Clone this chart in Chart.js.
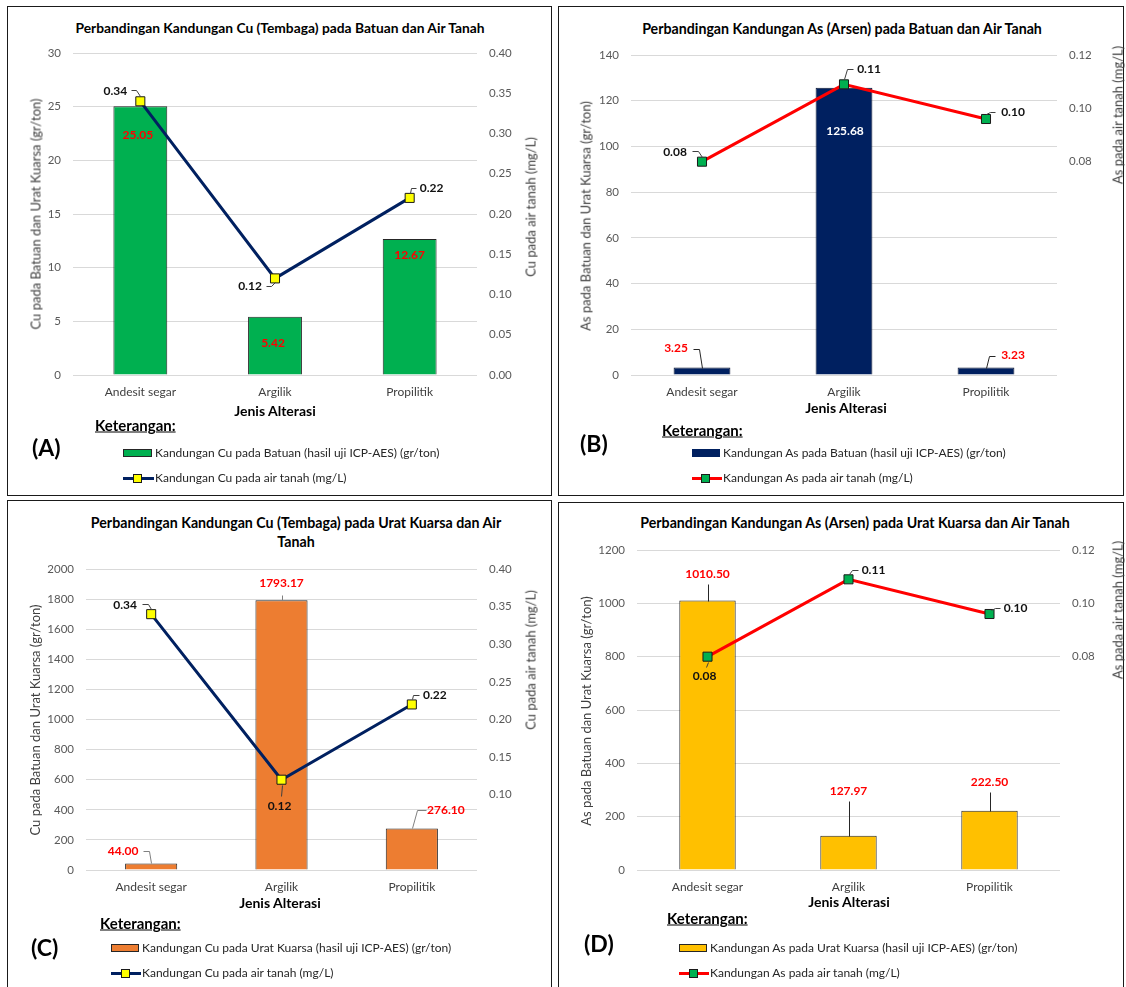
<!DOCTYPE html>
<html>
<head>
<meta charset="utf-8">
<script src="https://cdn.jsdelivr.net/npm/chart.js@4.4.1/dist/chart.umd.min.js"></script>
<style>
  body { margin:0; background:#fff; width:1126px; height:987px; position:relative; overflow:hidden; font-family:Lato, "Open Sans", sans-serif; color:#000; }
  canvas { position:absolute; }
  .t { position:absolute; white-space:nowrap; line-height:1; }
  .c { transform:translate(-50%,-50%); }
  .l { transform:translate(0,-50%); }
  .v { transform:translate(-50%,-50%) rotate(-90deg); }
  .title { font-weight:700; font-size:14.2px; }
  .axt { font-size:13px; color:#404040; }
  .xt { font-weight:700; font-size:14px; }
  .ket { font-weight:700; font-size:15px; text-decoration:underline; }
  .letter { font-weight:700; font-size:23px; }
  .leg { font-size:12px; color:#262626; }
  .sw { position:absolute; box-sizing:border-box; }
</style>
</head>
<body>
<script>
// Jenis alterasi (categories)
const categories = ['Andesit segar', 'Argilik', 'Propilitik'];

// Kandungan logam pada batuan / urat kuarsa (gr/ton)
const cuBatuan = [25.05, 5.42, 12.67];
const asBatuan = [3.25, 125.68, 3.23];
const cuUratKuarsa = [44.00, 1793.17, 276.10];
const asUratKuarsa = [1010.50, 127.97, 222.50];

// Kandungan logam pada air tanah (mg/L)
const cuAirTanah = [0.34, 0.12, 0.22];
const asAirTanah = [0.08, 0.109, 0.096];

// Axis tick values
const ticksCuBatuan = [0, 5, 10, 15, 20, 25, 30];
const ticksAsBatuan = [0, 20, 40, 60, 80, 100, 120, 140];
const ticksCuUrat = [0, 200, 400, 600, 800, 1000, 1200, 1400, 1600, 1800, 2000];
const ticksAsUrat = [0, 200, 400, 600, 800, 1000, 1200];
const ticksCuAirA = [0, 0.05, 0.10, 0.15, 0.20, 0.25, 0.30, 0.35, 0.40];
const ticksCuAirC = [0.10, 0.15, 0.20, 0.25, 0.30, 0.35, 0.40];
const ticksAsAir = [0.08, 0.10, 0.12];

const FONT = 'Lato, "Open Sans", sans-serif';

// Draws value labels (with optional leader lines) next to each bar / point
const valueLabels = {
  id: 'valueLabels',
  afterDatasetsDraw(chart) {
    const ctx = chart.ctx;
    chart.data.datasets.forEach((ds, i) => {
      const spec = ds.valueLabels;
      if (!spec) return;
      const meta = chart.getDatasetMeta(i);
      meta.data.forEach((el, j) => {
        const s = spec.items[j];
        const x = el.x, y = el.y;
        if (s.leader) {
          ctx.save();
          ctx.strokeStyle = spec.leaderColor || '#404040';
          ctx.lineWidth = 1;
          ctx.beginPath();
          s.leader.forEach(([lx, ly], k) => {
            const px = Math.round(x + lx) + 0.5, py = Math.round(y + ly) + 0.5;
            if (k === 0) ctx.moveTo(px, py); else ctx.lineTo(px, py);
          });
          ctx.stroke();
          ctx.restore();
        }
        ctx.save();
        ctx.font = spec.font;
        ctx.fillStyle = s.color || spec.color;
        ctx.textAlign = 'center';
        ctx.textBaseline = 'middle';
        ctx.fillText(ds.data[j].toFixed(2), x + s.dx, y + s.dy);
        ctx.restore();
      });
    });
  }
};

function addText(str, x, y, cls, anchor, size) {
  const d = document.createElement('div');
  d.className = 't ' + cls + ' ' + anchor;
  d.style.left = x + 'px';
  d.style.top = y + 'px';
  if (size) d.style.fontSize = size + 'px';
  d.textContent = str;
  document.body.appendChild(d);
}

function addBox(x0, y0, x1, y1, css) {
  const d = document.createElement('div');
  d.className = 'sw';
  d.style.left = x0 + 'px'; d.style.top = y0 + 'px';
  d.style.width = (x1 - x0) + 'px'; d.style.height = (y1 - y0) + 'px';
  Object.assign(d.style, css);
  document.body.appendChild(d);
}

// fixed-width vertical axis without extra label padding above/below
const fitVertical = w => s => { s.width = w; s.paddingTop = 0; s.paddingBottom = 0; };

function buildPanel(p) {
  // frame
  addBox(p.box[0], p.box[1], p.box[2], p.box[3], { border: '1.5px solid #1a1a1a' });

  // chart
  const [cx, cy, cw, ch] = p.canvas;
  const [l, r, t, b] = p.plot;
  const SW = 40, XH = 24;
  const cv = document.createElement('canvas');
  cv.width = cw; cv.height = ch;
  cv.style.left = cx + 'px'; cv.style.top = cy + 'px';
  document.body.appendChild(cv);

  const tickFont = { family: FONT, size: 11.5 };
  const catFont = { family: FONT, size: 12 };
  new Chart(cv, {
    type: 'bar',
    data: {
      labels: categories,
      datasets: [
        {
          type: 'line', data: p.line, order: 0, yAxisID: 'y2',
          borderColor: p.lineColor, borderWidth: 3, tension: 0,
          pointStyle: 'rect', pointRadius: 6.4, pointBackgroundColor: p.markerColor,
          pointBorderColor: '#1a1a1a', pointBorderWidth: 1,
          valueLabels: { font: 'bold 12px ' + FONT, color: '#111', items: p.lineLabels, leaderColor: '#404040' }
        },
        {
          type: 'bar', data: p.bars, order: 1, yAxisID: 'y',
          backgroundColor: p.barColor, borderColor: p.barBorder, borderWidth: 1,
          barPercentage: 0.4, categoryPercentage: 1,
          valueLabels: { font: 'bold 12px ' + FONT, color: '#FF0000', items: p.barLabels, leaderColor: p.barLeader || '#404040' }
        }
      ]
    },
    options: {
      responsive: false,
      animation: false,
      layout: {
        autoPadding: false,
        padding: { left: (l - cx) - SW, right: (cx + cw - r) - SW, top: t - cy, bottom: (cy + ch - b) - XH }
      },
      plugins: { legend: { display: false }, tooltip: { enabled: false }, title: { display: false } },
      scales: {
        x: {
          grid: { display: false, drawTicks: false }, border: { display: false },
          ticks: { color: '#404040', font: catFont, padding: 10 },
          afterFit: s => { s.height = XH; }
        },
        y: {
          position: 'left',
          min: p.leftTicks[0], max: p.leftTicks[p.leftTicks.length - 1],
          afterBuildTicks: s => { s.ticks = p.leftTicks.map(v => ({ value: v })); },
          grid: { color: '#d9d9d9', lineWidth: 1, drawTicks: false }, border: { display: false },
          ticks: { color: '#595959', font: tickFont, padding: 12, callback: v => String(v) },
          afterFit: fitVertical(SW)
        },
        y2: {
          position: 'right',
          min: 0, max: p.rightTicks[p.rightTicks.length - 1],
          afterBuildTicks: s => { s.ticks = p.rightTicks.map(v => ({ value: v })); },
          grid: { display: false, drawTicks: false }, border: { display: false },
          ticks: { color: '#595959', font: tickFont, padding: 12, callback: v => Number(v).toFixed(2) },
          afterFit: fitVertical(SW)
        }
      }
    },
    plugins: [valueLabels]
  });

  // texts
  p.title.forEach(([s, x, y]) => addText(s, x, y, 'title', 'c', p.titleSize));
  addText(p.leftTitle[0], p.leftTitle[1], p.leftTitle[2], 'axt', 'v');
  addText(p.rightTitle[0], p.rightTitle[1], p.rightTitle[2], 'axt', 'v');
  addText('Jenis Alterasi', p.xTitle[0], p.xTitle[1], 'xt', 'c');
  addText('Keterangan:', p.ket[0], p.ket[1], 'ket', 'l');
  addText(p.letter[0], p.letter[1], p.letter[2], 'letter', 'l');

  // legend
  const [sx0, sy0, sx1, sy1] = p.legBar;
  addBox(sx0, sy0, sx1, sy1, { background: p.barColor, border: '1px solid ' + p.legBorder });
  addText(p.legText1, sx1 + 3, (sy0 + sy1) / 2, 'leg', 'l');
  const ly = p.legLineY;
  addBox(sx0, ly - 1.5, sx1 + 2, ly + 1.5, { background: p.lineColor });
  addBox(p.legMarker - 4.5, ly - 4.5, p.legMarker + 4.5, ly + 4.5, { background: p.markerColor, border: '1px solid #1a1a1a' });
  addText(p.legText2, sx1 + 3, ly, 'leg', 'l');
}

const panels = [
  {
    box: [7, 6, 552, 496], canvas: [8, 40, 542, 370], plot: [73, 477, 53, 375],
    bars: cuBatuan, line: cuAirTanah, leftTicks: ticksCuBatuan, rightTicks: ticksCuAirA,
    barColor: '#00B050', barBorder: '#262626', lineColor: '#002060', markerColor: '#FFFF00', legBorder: '#262626',
    barLabels: [{ dx: -2.5, dy: 29 }, { dx: -2, dy: 26 }, { dx: 0, dy: 16 }],
    lineLabels: [
      { dx: -25, dy: -10, leader: [[-9, -11], [-4, -11], [0, -5]] },
      { dx: -25, dy: 8, leader: [[-9, 8], [-4, 8], [0, 4]] },
      { dx: 22, dy: -10, leader: [[6, -10], [1, -10], [0, -5]] }
    ],
    title: [['Perbandingan Kandungan Cu (Tembaga) pada Batuan dan Air Tanah', 280, 28]], titleSize: 13.8,
    leftTitle: ['Cu pada Batuan dan Urat Kuarsa (gr/ton)', 36, 214],
    rightTitle: ['Cu pada air tanah (mg/L)', 531, 207],
    xTitle: [275, 411], ket: [95, 425], letter: ['(A)', 32, 447],
    legBar: [123, 449, 152, 457], legLineY: 478, legMarker: 137.5,
    legText1: 'Kandungan Cu pada Batuan (hasil uji ICP-AES) (gr/ton)',
    legText2: 'Kandungan Cu pada air tanah (mg/L)'
  },
  {
    box: [558, 6, 1124, 496], canvas: [560, 40, 562, 370], plot: [631, 1057, 55, 375],
    bars: asBatuan, line: asAirTanah, leftTicks: ticksAsBatuan, rightTicks: ticksAsAir,
    barColor: '#002060', barBorder: '#0a1633', lineColor: '#FF0000', markerColor: '#00B050', legBorder: '#002060',
    barLeader: '#262626',
    barLabels: [
      { dx: -26, dy: -19, leader: [[-9, -19], [-3, -19], [0, 0]] },
      { dx: 1, dy: 43, color: '#FFFFFF' },
      { dx: 27, dy: -12, leader: [[0, 0], [3, -12], [9, -12]] }
    ],
    lineLabels: [
      { dx: -27, dy: -10, leader: [[-10, -11], [-4, -11], [0, -5]] },
      { dx: 25, dy: -15, leader: [[9, -15], [3, -15], [0, -5]] },
      { dx: 27, dy: -7, leader: [[9, -7], [4, -7], [0, -5]] }
    ],
    title: [['Perbandingan Kandungan As (Arsen) pada Batuan dan Air Tanah', 842, 29]],
    leftTitle: ['As pada Batuan dan Urat Kuarsa (gr/ton)', 586, 216],
    rightTitle: ['As pada air tanah (mg/L)', 1118, 115],
    xTitle: [846, 408], ket: [662, 430], letter: ['(B)', 580, 443],
    legBar: [692, 449, 720, 457], legLineY: 478, legMarker: 705,
    legText1: 'Kandungan As pada Batuan (hasil uji ICP-AES) (gr/ton)',
    legText2: 'Kandungan As pada air tanah (mg/L)'
  },
  {
    box: [7, 500, 552, 990], canvas: [8, 555, 542, 345], plot: [86, 477, 569, 870],
    bars: cuUratKuarsa, line: cuAirTanah, leftTicks: ticksCuUrat, rightTicks: ticksCuAirC,
    barColor: '#ED7D31', barBorder: '#262626', lineColor: '#002060', markerColor: '#FFFF00', legBorder: '#262626',
    barLeader: '#808080',
    barLabels: [
      { dx: -28, dy: -12, leader: [[-8, -12], [-2, -12], [0, 0]] },
      { dx: 0, dy: -17, leader: [[0, -5], [0, 0]] },
      { dx: 34, dy: -18, leader: [[14, -18], [5, -18], [0, 0]] }
    ],
    lineLabels: [
      { dx: -26, dy: -9, leader: [[-9, -10], [-3, -10], [0, -5]] },
      { dx: -2, dy: 26, leader: [[0, 5], [-1, 16]] },
      { dx: 23, dy: -9, leader: [[7, -9], [1, -9], [0, -5]] }
    ],
    title: [['Perbandingan Kandungan Cu (Tembaga) pada Urat Kuarsa dan Air', 296, 523], ['Tanah', 296, 542]],
    leftTitle: ['Cu pada Batuan dan Urat Kuarsa (gr/ton)', 35, 720],
    rightTitle: ['Cu pada air tanah (mg/L)', 531, 660],
    xTitle: [280, 903], ket: [100, 923], letter: ['(C)', 31, 947],
    legBar: [111, 944, 139, 952], legLineY: 973, legMarker: 125,
    legText1: 'Kandungan Cu pada Urat Kuarsa (hasil uji ICP-AES) (gr/ton)',
    legText2: 'Kandungan Cu pada air tanah (mg/L)'
  },
  {
    box: [558, 502, 1124, 990], canvas: [560, 535, 562, 365], plot: [637, 1060, 550, 870],
    bars: asUratKuarsa, line: asAirTanah, leftTicks: ticksAsUrat, rightTicks: ticksAsAir,
    barColor: '#FFC000', barBorder: '#262626', lineColor: '#FF0000', markerColor: '#00B050', legBorder: '#262626',
    barLeader: '#262626',
    barLabels: [
      { dx: 0, dy: -26, leader: [[0, -17], [0, 0]] },
      { dx: 0, dy: -45, leader: [[0, -35], [0, 0]] },
      { dx: 0, dy: -29, leader: [[0, -19], [0, 0]] }
    ],
    lineLabels: [
      { dx: -3, dy: 19, leader: [[0, 5], [-2, 10]] },
      { dx: 25, dy: -9, leader: [[9, -9], [3, -9], [0, -5]] },
      { dx: 26, dy: -6, leader: [[10, -6], [5, -6], [1, -4]] }
    ],
    title: [['Perbandingan Kandungan As (Arsen) pada Urat Kuarsa dan Air Tanah', 855, 523]],
    leftTitle: ['As pada Batuan dan Urat Kuarsa (gr/ton)', 586, 711],
    rightTitle: ['As pada air tanah (mg/L)', 1118, 610],
    xTitle: [849, 902], ket: [667, 918], letter: ['(D)', 584, 943],
    legBar: [679, 944, 707, 952], legLineY: 973, legMarker: 693,
    legText1: 'Kandungan As pada Urat Kuarsa (hasil uji ICP-AES) (gr/ton)',
    legText2: 'Kandungan As pada air tanah (mg/L)'
  }
];

panels.forEach(buildPanel);
</script>
</body>
</html>
